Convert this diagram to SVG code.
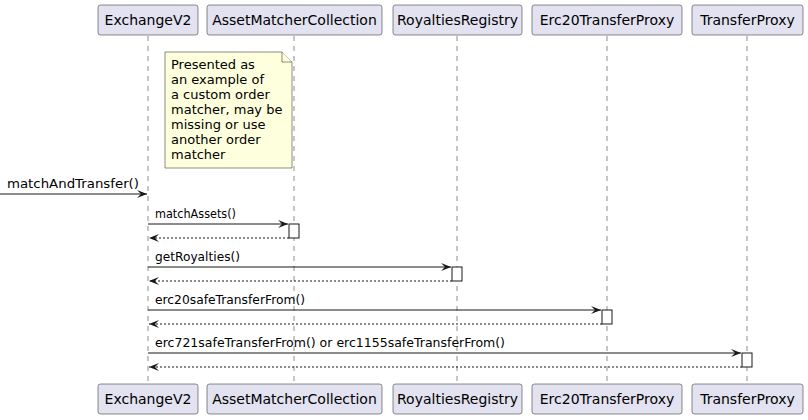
<svg xmlns="http://www.w3.org/2000/svg" width="808" height="420" viewBox="0 0 808 420">
<defs>
<style>
.box{fill:#E2E2F0;stroke:#181818;stroke-width:0.5}
.pt{font-family:"DejaVu Sans",sans-serif;font-size:14px;fill:#000;text-anchor:middle}
.life{stroke:#181818;stroke-width:0.5;stroke-dasharray:5,5;fill:none}
.msg{stroke:#181818;stroke-width:1;fill:none}
.ret{stroke:#181818;stroke-width:1;stroke-dasharray:2,2;fill:none}
.ml{font-family:"DejaVu Sans",sans-serif;font-size:13px;fill:#000}
.act{fill:#FFFFFF;stroke:#181818;stroke-width:1}
.note{fill:#FEFFDD;stroke:#181818;stroke-width:0.5}
.nt{font-family:"DejaVu Sans",sans-serif;font-size:13px;fill:#000}
</style>
<marker id="ah" viewBox="0 0 10 8" refX="10" refY="4" markerWidth="10" markerHeight="8" markerUnits="userSpaceOnUse" orient="auto">
<polygon points="0,0 10,4 0,8 4,4" fill="#181818"/>
</marker>
</defs>
<rect width="808" height="420" fill="#FFFFFF"/>
<g id="lifelines">
<line class="life" x1="148" y1="36" x2="148" y2="384"/>
<line class="life" x1="294" y1="36" x2="294" y2="384"/>
<line class="life" x1="457" y1="36" x2="457" y2="384"/>
<line class="life" x1="607" y1="36" x2="607" y2="384"/>
<line class="life" x1="747" y1="36" x2="747" y2="384"/>
</g>
<g id="ExchangeV2">
<rect class="box" x="98" y="5" width="100" height="30" rx="2.5"/>
<text class="pt" x="148" y="25">ExchangeV2</text>
<rect class="box" x="98" y="384" width="100" height="30" rx="2.5"/>
<text class="pt" x="148" y="404">ExchangeV2</text>
</g>
<g id="AssetMatcherCollection">
<rect class="box" x="207" y="5" width="175" height="30" rx="2.5"/>
<text class="pt" x="294.5" y="25">AssetMatcherCollection</text>
<rect class="box" x="207" y="384" width="175" height="30" rx="2.5"/>
<text class="pt" x="294.5" y="404">AssetMatcherCollection</text>
</g>
<g id="RoyaltiesRegistry">
<rect class="box" x="393" y="5" width="129" height="30" rx="2.5"/>
<text class="pt" x="457.5" y="25">RoyaltiesRegistry</text>
<rect class="box" x="393" y="384" width="129" height="30" rx="2.5"/>
<text class="pt" x="457.5" y="404">RoyaltiesRegistry</text>
</g>
<g id="Erc20TransferProxy">
<rect class="box" x="532" y="5" width="150" height="30" rx="2.5"/>
<text class="pt" x="607" y="25">Erc20TransferProxy</text>
<rect class="box" x="532" y="384" width="150" height="30" rx="2.5"/>
<text class="pt" x="607" y="404">Erc20TransferProxy</text>
</g>
<g id="TransferProxy">
<rect class="box" x="692" y="5" width="111" height="30" rx="2.5"/>
<text class="pt" x="747.5" y="25">TransferProxy</text>
<rect class="box" x="692" y="384" width="111" height="30" rx="2.5"/>
<text class="pt" x="747.5" y="404">TransferProxy</text>
</g>
<g id="note">
<path class="note" d="M165,52 L282,52 L292,62 L292,168 L165,168 Z"/>
<path class="note" d="M282,52 L282,62 L292,62"/>
<text class="nt" x="171" y="69">Presented as</text>
<text class="nt" x="171" y="84">an example of</text>
<text class="nt" x="171" y="99">a custom order</text>
<text class="nt" x="171" y="114">matcher, may be</text>
<text class="nt" x="171" y="129">missing or use</text>
<text class="nt" x="171" y="144">another order</text>
<text class="nt" x="171" y="159">matcher</text>
</g>
<g id="activations">
<rect class="act" x="289" y="224" width="10" height="14"/>
<rect class="act" x="452" y="267" width="10" height="14"/>
<rect class="act" x="602" y="310" width="10" height="14"/>
<rect class="act" x="742" y="353" width="10" height="14"/>
</g>
<g id="connectors">
<line class="msg" x1="0" y1="194" x2="147" y2="194" marker-end="url(#ah)"/>
<text class="ml" x="7" y="188" textLength="132" lengthAdjust="spacingAndGlyphs">matchAndTransfer()</text>
<line class="msg" x1="148" y1="224" x2="288" y2="224" marker-end="url(#ah)"/>
<text class="ml" x="155" y="218" textLength="81" lengthAdjust="spacingAndGlyphs">matchAssets()</text>
<line class="ret" x1="289" y1="238" x2="149" y2="238" marker-end="url(#ah)"/>
<line class="msg" x1="148" y1="267" x2="451" y2="267" marker-end="url(#ah)"/>
<text class="ml" x="155" y="261" textLength="85" lengthAdjust="spacingAndGlyphs">getRoyalties()</text>
<line class="ret" x1="452" y1="281" x2="149" y2="281" marker-end="url(#ah)"/>
<line class="msg" x1="148" y1="310" x2="601" y2="310" marker-end="url(#ah)"/>
<text class="ml" x="155" y="304" textLength="150" lengthAdjust="spacingAndGlyphs">erc20safeTransferFrom()</text>
<line class="ret" x1="602" y1="324" x2="149" y2="324" marker-end="url(#ah)"/>
<line class="msg" x1="148" y1="353" x2="741" y2="353" marker-end="url(#ah)"/>
<text class="ml" x="155" y="347" textLength="350" lengthAdjust="spacingAndGlyphs">erc721safeTransferFrom() or erc1155safeTransferFrom()</text>
<line class="ret" x1="742" y1="367" x2="149" y2="367" marker-end="url(#ah)"/>
</g>
</svg>
